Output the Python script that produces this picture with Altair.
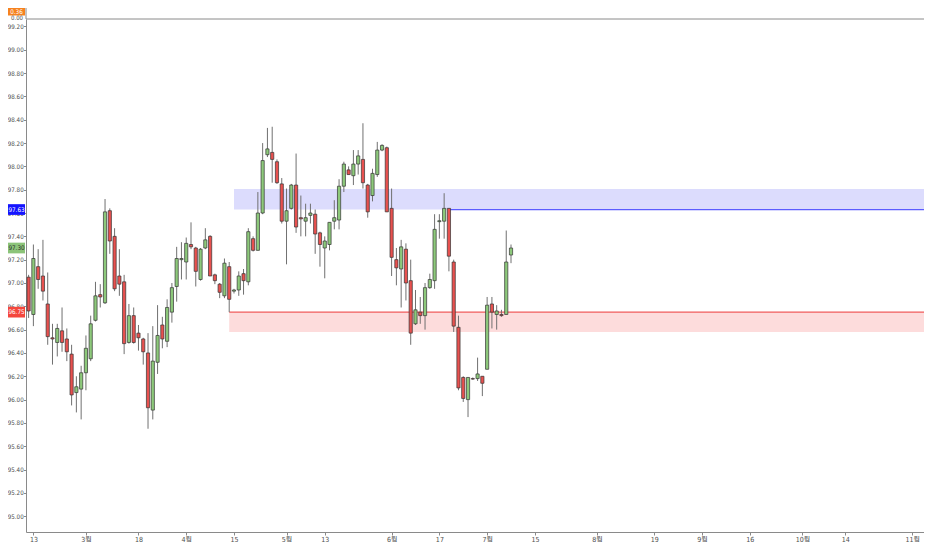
import altair as alt
import pandas as pd

# ---------------- data ----------------
day_index = list(range(-1, 101))
open_ = [97.05, 96.73, 97.14, 97.06, 96.82, 96.53, 96.49, 96.59, 96.52, 96.39,
         96.06, 96.09, 96.23, 96.35, 96.68, 96.90, 96.83, 97.62, 97.40, 97.06,
         97.01, 96.49, 96.72, 96.57, 96.52, 96.40, 95.91, 96.32, 96.64, 96.50,
         96.75, 96.97, 97.20, 97.18, 97.33, 97.30, 97.03, 97.30, 97.40, 97.07,
         96.99, 96.89, 97.14, 96.93, 96.94, 97.08, 97.01, 97.38, 97.28, 97.60,
         98.10, 98.12, 98.04, 97.85, 97.53, 97.64, 97.84, 97.56, 97.53, 97.58,
         97.59, 97.43, 97.30, 97.33, 97.53, 97.54, 97.83, 97.97, 97.92, 98.02,
         98.06, 97.84, 97.75, 97.93, 98.14, 98.16, 97.64, 97.20, 97.12, 97.29,
         97.02, 96.65, 96.75, 96.72, 96.96, 97.02, 97.526, 97.53, 97.64, 97.18,
         96.62, 96.19, 96.00, 96.18, 96.18, 96.20, 96.26, 96.82, 96.73, 96.73,
         96.73, 97.24]
high = [97.07, 97.33, 97.29, 97.37, 97.09, 96.65, 96.65, 96.79, 96.61, 96.47,
        96.20, 96.29, 96.55, 96.72, 97.01, 96.99, 97.72, 97.64, 97.47, 97.29,
        97.07, 96.82, 96.79, 96.64, 96.53, 96.57, 96.63, 96.81, 96.71, 96.86,
        97.00, 97.31, 97.35, 97.39, 97.52, 97.31, 97.30, 97.47, 97.41, 97.08,
        97.00, 97.21, 97.18, 96.95, 97.10, 97.12, 97.47, 97.40, 97.78, 98.20,
        98.33, 98.34, 98.06, 97.90, 97.81, 97.85, 98.11, 97.75, 97.68, 97.68,
        97.63, 97.44, 97.40, 97.52, 97.71, 97.89, 98.04, 98.00, 98.14, 98.14,
        98.37, 97.85, 97.98, 98.21, 98.19, 98.17, 97.81, 97.30, 97.37, 97.34,
        97.20, 96.94, 96.88, 97.00, 97.08, 97.59, 97.59, 97.77, 97.64, 97.20,
        96.72, 96.20, 96.19, 96.19, 96.36, 96.20, 96.88, 96.88, 96.81, 96.77,
        97.45, 97.33]
low = [96.70, 96.63, 96.95, 96.85, 96.47, 96.30, 96.37, 96.41, 96.33, 95.95,
       95.89, 95.83, 96.08, 96.33, 96.67, 96.79, 96.82, 97.25, 96.93, 96.89,
       96.39, 96.48, 96.48, 96.42, 96.30, 95.75, 95.83, 96.22, 96.44, 96.45,
       96.66, 96.84, 97.03, 97.03, 97.29, 96.97, 97.02, 97.29, 97.06, 96.99,
       96.87, 96.87, 96.75, 96.91, 96.89, 96.90, 96.98, 97.27, 97.28, 97.59,
       98.08, 97.86, 97.85, 97.51, 97.16, 97.63, 97.43, 97.40, 97.40, 97.51,
       97.25, 97.14, 97.04, 97.28, 97.46, 97.46, 97.78, 97.93, 97.84, 97.93,
       97.81, 97.56, 97.70, 97.91, 98.13, 97.61, 97.06, 96.98, 96.79, 96.85,
       96.47, 96.64, 96.65, 96.60, 96.95, 96.95, 97.38, 97.38, 97.10, 96.58,
       96.08, 95.98, 95.85, 96.17, 96.16, 96.03, 96.26, 96.61, 96.60, 96.71,
       96.73, 97.17]
close = [96.76, 97.21, 97.03, 96.93, 96.54, 96.52, 96.61, 96.49, 96.41, 96.04,
         96.11, 96.23, 96.44, 96.65, 96.89, 96.88, 97.61, 97.36, 96.95, 96.99,
         96.48, 96.72, 96.49, 96.53, 96.41, 95.93, 96.33, 96.55, 96.52, 96.79,
         96.96, 97.21, 97.21, 97.34, 97.31, 97.10, 97.29, 97.37, 97.06, 97.02,
         96.92, 97.17, 96.86, 96.94, 97.06, 97.02, 97.44, 97.28, 97.60, 98.05,
         98.15, 98.06, 97.86, 97.53, 97.62, 97.84, 97.48, 97.55, 97.56, 97.60,
         97.42, 97.33, 97.36, 97.52, 97.56, 97.83, 98.02, 97.93, 98.02, 98.09,
         97.86, 97.61, 97.94, 98.14, 98.18, 97.61, 97.22, 97.13, 97.31, 97.00,
         96.57, 96.77, 96.72, 96.96, 97.03, 97.46, 97.534, 97.64, 97.23, 96.63,
         96.10, 96.01, 96.19, 96.176, 96.22, 96.14, 96.81, 96.75, 96.76, 96.72,
         97.18, 97.30]

tick_index = [0, 11, 22, 32, 42, 53, 61, 75, 85, 95, 105, 118, 130, 140, 150, 161, 170, 184]
tick_labels = ["13", "3월", "18", "4월", "15", "5월", "13", "6월", "17", "7월",
               "15", "8월", "19", "9월", "16", "10월", "14", "11월"]
price_ticks = [95.0, 95.2, 95.4, 95.6, 95.8, 96.0, 96.2, 96.4, 96.6, 96.8, 97.0,
               97.2, 97.4, 97.6, 97.8, 98.0, 98.2, 98.4, 98.6, 98.8, 99.0, 99.2]

zone_name = ["supply", "demand"]
zone_start = [42, 41]
zone_top = [97.806, 96.75]
zone_bottom = [97.63, 96.58]
line_start = [87, 41]
line_price = [97.63, 96.75]

tag_name = ["supply", "last", "demand"]
tag_price = [97.63, 97.30, 96.75]
tag_text = ["97.63", "97.30", "96.75"]

top_pane_value = "0.36"
top_pane_axis = "0.00"

# ---------------- styling ----------------
W, H = 898, 513
FONT = "Liberation Sans Narrow, DejaVu Sans Condensed, Liberation Sans"
AX = "#8a8a8a"
LBL = "#4d4d4d"

candles = pd.DataFrame({"i": day_index, "o": open_, "h": high, "l": low, "c": close})
candles["dir"] = ["up" if c >= o else "down" for o, c in zip(open_, close)]
zones = pd.DataFrame({"zone": zone_name, "start": zone_start, "top": zone_top,
                      "bottom": zone_bottom, "lstart": line_start, "lprice": line_price})
tags = pd.DataFrame({"tag": tag_name, "price": tag_price, "txt": tag_text})

label_expr = ("[" + ",".join("'%s'" % t for t in tick_labels) + "][indexof(["
              + ",".join(str(v) for v in tick_index) + "], datum.value)]")

xs = alt.Scale(domain=[-0.5, 185.42], nice=False, zero=False)
ys = alt.Scale(domain=[94.8645, 99.264], nice=False, zero=False)
xaxis = alt.Axis(values=tick_index, labelExpr=label_expr, title=None, grid=False,
                 tickSize=3, tickColor=AX, domainColor=AX, labelFontSize=7,
                 labelColor=LBL, labelFont=FONT + ", Noto Sans CJK KR",
                 labelPadding=0, labelFlush=False, labelOverlap=False)
yaxis = alt.Axis(values=price_ticks, format=".2f", title=None, grid=False,
                 tickSize=2.5, tickColor=AX, domainColor=AX, labelFontSize=6.2,
                 labelColor=LBL, labelFont=FONT, labelPadding=0.3, labelOverlap=False)


def X(f):
    return alt.X(f, type="quantitative", scale=xs, axis=xaxis)


def Y(f):
    return alt.Y(f, type="quantitative", scale=ys, axis=yaxis)


zone_layer = alt.Chart(zones).mark_rect().encode(
    x=X("start"), x2=alt.value(W), y=Y("top"), y2="bottom",
    fill=alt.Fill("zone:N", scale=alt.Scale(domain=zone_name, range=["#dcdcfd", "#fddcdc"]), legend=None),
)
line_layer = alt.Chart(zones).mark_rule(strokeWidth=1.3).encode(
    x=X("lstart"), x2=alt.value(W), y=Y("lprice"),
    stroke=alt.Stroke("zone:N", scale=alt.Scale(domain=zone_name, range=["#5c5cff", "#f05a5a"]), legend=None),
)
wicks = alt.Chart(candles).mark_rule(color="#707070", strokeWidth=1, clip=True).encode(
    x=X("i"), y=Y("l"), y2="h",
)
bodies = alt.Chart(candles).mark_bar(size=3.2, stroke="#333333", strokeWidth=0.7, clip=True).encode(
    x=X("i"), y=Y("o"), y2="c",
    fill=alt.Fill("dir:N", scale=alt.Scale(domain=["up", "down"], range=["#8dc97b", "#e8514f"]), legend=None),
)
tag_rects = alt.Chart(tags).transform_calculate(
    hi="datum.price + 0.046", lo="datum.price - 0.046"
).mark_rect().encode(
    x=alt.value(-18), x2=alt.value(-1), y=Y("hi:Q"), y2="lo:Q",
    fill=alt.Fill("tag:N", scale=alt.Scale(domain=tag_name, range=["#1414ff", "#8cc47a", "#f4473d"]), legend=None),
)
tag_texts = alt.Chart(tags).mark_text(font=FONT, fontSize=6.3, align="center", baseline="middle").encode(
    x=alt.value(-9.5), y=Y("price"), text="txt:N",
    color=alt.Color("tag:N", scale=alt.Scale(domain=tag_name, range=["#ffffff", "#2b2b2b", "#ffffff"]), legend=None),
)

frame = pd.DataFrame({"k": [0]})
top_line = alt.Chart(frame).mark_rule(color=AX, strokeWidth=1).encode(
    x=alt.value(0), x2=alt.value(W), y=alt.value(0))
axis_ext = alt.Chart(frame).mark_rule(color=AX, strokeWidth=1).encode(
    x=alt.value(0), y=alt.value(-11), y2=alt.value(0))
orange = alt.Chart(frame).mark_rect(color="#f6821f").encode(
    x=alt.value(-18), x2=alt.value(-1), y=alt.value(-11), y2=alt.value(-3.5))
orange_txt = alt.Chart(frame).transform_calculate(t="'%s'" % top_pane_value).mark_text(
    font=FONT, fontSize=6.3, color="white", align="center", baseline="middle").encode(
    x=alt.value(-9.5), y=alt.value(-7.2), text="t:N")
zero_txt = alt.Chart(frame).transform_calculate(t="'%s'" % top_pane_axis).mark_text(
    font=FONT, fontSize=6, color=LBL, align="right", baseline="middle").encode(
    x=alt.value(-3), y=alt.value(-1.2), text="t:N")

chart = alt.layer(
    zone_layer, line_layer, wicks, bodies, top_line, axis_ext,
    tag_rects, tag_texts, orange, orange_txt, zero_txt,
).resolve_scale(
    fill="independent", stroke="independent", color="independent"
).properties(
    width=W, height=H, autosize="none",
    padding={"left": 18, "top": 11, "right": 0, "bottom": 10},
    background="white",
).configure_view(stroke=None)

chart.save("out.html", embed_options={"renderer": "svg", "actions": False})
